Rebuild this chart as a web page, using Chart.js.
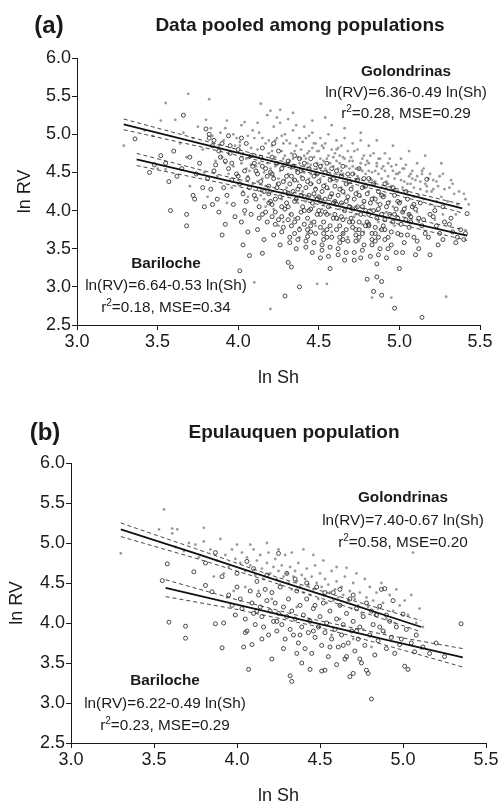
<!DOCTYPE html>
<html>
<head>
<meta charset="utf-8">
<script src="https://cdn.jsdelivr.net/npm/chart.js@4.4.1/dist/chart.umd.min.js"></script>
<style>
  body { margin: 0; background: #fff; font-family: "Liberation Sans", Arial, sans-serif; color: #1a1a1a; }
  #wrap { position: relative; width: 502px; height: 807px; overflow: hidden; }
  canvas { position: absolute; left: 0; }
  .lbl { position: absolute; white-space: nowrap; transform: translateX(-50%); text-align: center; }
  .tag { font-weight: bold; font-size: 24px; line-height: 28px; }
  .ttl { font-weight: bold; font-size: 19px; line-height: 22px; }
  .note { font-size: 15.3px; }
  sup { font-size: 10px; line-height: 0; vertical-align: 6px; }
</style>
</head>
<body>
<div id="wrap">
  <canvas id="chartA" width="502" height="400" style="top:0"></canvas>
  <canvas id="chartB" width="502" height="407" style="top:400px"></canvas>

  <div class="lbl tag" style="left:49px; top:11px">(a)</div>
  <div class="lbl ttl" style="left:300px; top:14px">Data pooled among populations</div>
  <div class="lbl note" style="left:406px; top:60px; line-height:21px"><b>Golondrinas</b><br>ln(RV)=6.36-0.49 ln(Sh)<br>r<sup>2</sup>=0.28, MSE=0.29</div>
  <div class="lbl note" style="left:166px; top:252px; line-height:22px"><b>Bariloche</b><br>ln(RV)=6.64-0.53 ln(Sh)<br>r<sup>2</sup>=0.18, MSE=0.34</div>

  <div class="lbl tag" style="left:45px; top:418px">(b)</div>
  <div class="lbl ttl" style="left:294px; top:421px">Epulauquen population</div>
  <div class="lbl note" style="left:403px; top:486px; line-height:22.5px"><b>Golondrinas</b><br>ln(RV)=7.40-0.67 ln(Sh)<br>r<sup>2</sup>=0.58, MSE=0.20</div>
  <div class="lbl note" style="left:165px; top:669px; line-height:22.5px"><b>Bariloche</b><br>ln(RV)=6.22-0.49 ln(Sh)<br>r<sup>2</sup>=0.23, MSE=0.29</div>
</div>

<script>
// axis ticks
const xTicks = [3.0, 3.5, 4.0, 4.5, 5.0, 5.5];
const yTicks = [2.5, 3.0, 3.5, 4.0, 4.5, 5.0, 5.5, 6.0];

// (a) pooled data: Golondrinas (grey dots), [ln Sh, ln RV]
const golA = [
  [3.29,4.85],[3.52,5.18],[3.55,5.41],[3.47,4.98],[3.50,4.55],[3.55,4.54],[3.42,5.05],
  [3.61,5.19],[3.66,5.02],[3.69,5.53],[3.64,4.88],[3.68,4.70],[3.72,4.95],[3.75,5.10],[3.70,4.32],
  [3.80,5.19],[3.82,5.46],[3.78,4.80],[3.84,4.98],[3.86,4.65],[3.83,5.08],[3.88,4.85],[3.79,4.50],[3.87,4.45],[3.81,4.18],[3.89,5.02],
  [3.93,5.18],[3.91,4.92],[3.95,4.78],[3.92,4.62],[3.97,5.00],[3.94,4.48],[3.98,4.85],[3.90,4.70],[3.96,4.30],[3.99,4.95],[3.93,4.10],[3.97,4.58],
  [4.04,5.16],[4.01,4.90],[4.03,4.75],[4.06,4.98],[4.02,4.62],[4.08,4.82],[4.05,4.55],[4.00,4.40],[4.07,4.70],[4.09,5.05],[4.03,4.25],[4.06,4.45],[4.01,4.85],[4.08,4.60],[4.04,3.95],[4.09,4.35],
  [4.14,5.40],[4.18,5.25],[4.10,4.95],[4.12,4.80],[4.15,4.68],[4.11,4.58],[4.17,4.88],[4.13,5.02],[4.16,4.50],[4.19,4.75],[4.12,4.38],[4.18,4.62],[4.14,4.20],[4.10,3.06],[4.17,4.05],[4.19,4.92],[4.11,4.72],[4.15,4.42],
  [4.20,5.31],[4.26,5.32],[4.22,5.10],[4.24,4.95],[4.21,4.85],[4.27,4.78],[4.23,4.70],[4.25,4.62],[4.28,4.88],[4.20,4.55],[4.29,5.00],[4.22,4.45],[4.26,4.52],[4.24,4.35],[4.28,4.68],[4.21,4.25],[4.27,4.15],[4.20,2.71],[4.25,3.80],[4.29,4.40],[4.23,4.92],[4.26,5.15],
  [4.31,5.20],[4.34,5.05],[4.30,4.92],[4.36,4.85],[4.33,4.75],[4.38,4.95],[4.32,4.65],[4.35,4.58],[4.37,4.70],[4.39,4.80],[4.31,4.48],[4.34,4.40],[4.36,4.52],[4.38,4.62],[4.30,4.30],[4.33,4.20],[4.37,4.10],[4.35,3.90],[4.39,4.45],[4.32,4.88],[4.36,5.12],[4.38,3.65],[4.34,4.68],
  [4.41,5.10],[4.44,4.98],[4.40,4.90],[4.46,4.82],[4.43,4.75],[4.48,4.88],[4.42,4.68],[4.45,4.60],[4.47,4.70],[4.49,4.55],[4.41,4.50],[4.44,4.42],[4.46,4.35],[4.48,4.48],[4.40,4.25],[4.43,4.15],[4.47,4.05],[4.45,3.85],[4.49,4.62],[4.42,4.95],[4.46,5.02],[4.44,4.78],[4.41,4.58],[4.48,4.30],[4.43,3.70],
  [4.51,4.95],[4.54,4.88],[4.50,4.78],[4.56,4.72],[4.53,4.65],[4.58,4.80],[4.52,4.60],[4.55,4.52],[4.57,4.62],[4.59,4.45],[4.51,4.42],[4.54,4.35],[4.56,4.28],[4.58,4.40],[4.50,4.18],[4.53,4.08],[4.57,3.95],[4.55,3.04],[4.49,3.04],[4.59,4.70],[4.52,4.85],[4.56,5.00],[4.54,4.55],[4.51,4.68],[4.58,4.20],[4.53,3.75],
  [4.61,4.92],[4.64,4.85],[4.60,4.75],[4.66,4.68],[4.63,4.62],[4.68,4.78],[4.62,4.55],[4.65,4.48],[4.67,4.58],[4.69,4.40],[4.61,4.38],[4.64,4.30],[4.66,4.22],[4.68,4.35],[4.60,4.12],[4.63,4.02],[4.67,3.90],[4.69,4.65],[4.62,4.82],[4.66,4.95],[4.64,4.52],[4.61,4.65],[4.68,4.15],[4.65,3.70],[4.63,4.72],
  [4.71,4.88],[4.74,4.80],[4.70,4.70],[4.76,4.62],[4.73,4.55],[4.78,4.72],[4.72,4.48],[4.75,4.42],[4.77,4.52],[4.79,4.35],[4.71,4.32],[4.74,4.25],[4.76,4.18],[4.78,4.30],[4.70,4.05],[4.73,3.95],[4.77,3.82],[4.79,4.60],[4.72,4.78],[4.76,4.92],[4.74,4.45],[4.71,4.58],[4.78,4.10],[4.75,3.60],
  [4.81,4.85],[4.84,4.75],[4.80,4.65],[4.86,4.58],[4.83,4.50],[4.88,4.68],[4.82,4.42],[4.85,4.38],[4.87,4.48],[4.89,4.30],[4.81,4.25],[4.84,4.18],[4.86,4.10],[4.88,4.22],[4.80,3.98],[4.83,2.86],[4.87,3.85],[4.89,4.55],[4.82,4.72],[4.86,4.62],[4.84,4.35],[4.81,4.52],
  [4.91,4.75],[4.94,4.68],[4.90,4.58],[4.96,4.52],[4.93,4.45],[4.98,4.60],[4.92,4.38],[4.95,4.32],[4.97,4.42],[4.99,4.25],[4.91,4.20],[4.94,4.12],[4.96,4.05],[4.95,2.86],[4.90,3.92],[4.97,3.80],[4.93,4.62],[4.98,4.48],[4.92,4.30],
  [5.01,4.68],[5.04,4.60],[5.00,4.50],[5.06,4.45],[5.03,4.38],[5.08,4.52],[5.02,4.30],[5.05,4.25],[5.07,4.35],[5.09,4.18],[5.01,4.12],[5.04,4.05],[5.06,3.95],[5.08,4.42],[5.02,4.55],[5.05,3.85],
  [5.11,4.62],[5.14,4.48],[5.10,4.40],[5.16,4.35],[5.13,4.28],[5.18,4.42],[5.12,4.20],[5.15,4.15],[5.17,4.25],[5.19,4.08],[5.11,3.98],[5.14,4.52],
  [5.21,4.40],[5.24,4.32],[5.20,4.25],[5.26,4.18],[5.23,4.12],[5.28,4.28],[5.22,4.05],[5.27,3.95],[5.25,4.45],
  [5.31,4.30],[5.34,4.22],[5.30,4.12],[5.36,4.08],[5.33,4.35],[5.29,2.87],[5.35,3.95],
  [5.41,4.15],[5.43,4.08],[5.40,4.22],
  [4.05,4.68],[4.07,4.52],[4.15,4.95],[4.17,4.32],[4.13,4.62],[4.21,4.78],[4.23,4.58],[4.25,4.42],[4.27,4.98],[4.29,4.72],
  [4.31,4.62],[4.33,4.55],[4.35,4.78],[4.37,4.38],[4.39,4.68],[4.41,4.72],[4.43,4.62],[4.45,4.48],[4.47,4.88],[4.49,4.78],
  [4.51,4.55],[4.53,4.82],[4.55,4.68],[4.57,4.48],[4.59,4.58],[4.61,4.80],[4.63,4.48],[4.65,4.70],[4.67,4.42],[4.69,4.55],
  [4.71,4.65],[4.73,4.40],[4.75,4.55],[4.77,4.68],[4.79,4.48],[4.81,4.62],[4.83,4.40],[4.85,4.52],[4.87,4.68],[4.89,4.42],
  [4.91,4.52],[4.93,4.35],[4.95,4.58],[4.97,4.28],[4.99,4.48],[5.01,4.40],[5.03,4.55],[5.05,4.35],[5.07,4.48],[5.09,4.30],
  [5.11,4.45],[5.13,4.38],[5.15,4.55],[5.17,4.32],[5.19,4.48],[5.21,4.28],[5.23,4.38],[5.27,4.48],[5.32,4.40],[5.37,4.25],
  [4.22,4.02],[4.32,3.95],[4.42,4.12],[4.52,4.02],[4.62,3.88],[4.72,3.92],[4.82,4.02],[4.92,3.98],[5.02,3.98],[4.48,3.80],
  [4.58,3.72],[4.68,3.65],[4.38,3.78],[4.28,3.85],[4.78,3.72],[4.88,3.75],[5.12,3.85],[5.22,3.88],[4.16,4.15],[4.06,4.18],
  [4.34,5.28],[4.46,5.18],[4.58,5.12],[4.66,5.08],[4.76,5.02],[4.86,4.92],[4.96,4.85],[5.06,4.78],[5.16,4.72],[5.26,4.62],
  [4.54,5.22],[4.24,5.22],[4.12,5.15],[4.02,5.12],[3.92,5.08]
];

// (a) pooled data: Bariloche (open circles)
const barA = [
  [3.36,4.94],[3.66,5.25],[3.58,4.00],[3.68,3.95],[3.68,3.80],[3.90,3.68],[4.01,3.21],[4.07,3.41],[4.15,3.44],[4.29,2.88],
  [4.38,3.00],[4.31,3.32],[4.33,3.26],[4.57,3.24],[4.51,3.38],[4.80,3.10],[4.86,3.13],[4.84,2.94],[4.89,2.89],[4.89,3.07],
  [4.97,2.72],[5.14,2.60],[5.00,3.24],[5.10,3.42],[5.19,3.42],[5.35,3.58],[5.42,3.96],[5.17,4.41],[5.27,4.05],
  [3.45,4.50],[3.48,4.60],[3.52,4.72],[3.57,4.38],[3.60,4.78],[3.55,4.62],
  [3.62,4.45],[3.65,4.55],[3.70,4.70],[3.72,4.20],[3.74,4.48],[3.76,4.62],[3.78,4.30],[3.73,4.15],[3.79,4.05],
  [3.80,5.07],[3.82,4.95],[3.84,4.85],[3.86,4.60],[3.81,4.42],[3.83,4.28],[3.85,4.52],[3.87,4.15],[3.89,4.70],[3.88,3.98],[3.84,4.08],[3.82,5.00],
  [3.90,4.88],[3.92,4.65],[3.94,4.55],[3.96,4.40],[3.91,4.30],[3.93,4.20],[3.95,4.75],[3.97,4.08],[3.99,4.48],[3.98,3.92],[3.92,3.82],[3.96,4.62],[3.94,4.98],
  [4.00,4.80],[4.02,4.68],[4.04,4.52],[4.06,4.42],[4.01,4.35],[4.03,4.22],[4.05,4.12],[4.07,4.30],[4.09,4.58],[4.08,3.95],[4.02,3.85],[4.06,3.72],[4.04,4.00],[4.00,4.45],[4.08,4.72],[4.03,3.55],
  [4.10,4.62],[4.12,4.48],[4.14,4.38],[4.16,4.25],[4.11,4.15],[4.13,4.05],[4.15,3.95],[4.17,4.55],[4.19,4.32],[4.18,3.85],[4.12,3.75],[4.16,3.62],[4.14,4.70],[4.10,4.20],[4.18,4.45],[4.13,3.90],[4.19,4.10],
  [4.20,4.50],[4.22,4.42],[4.24,4.30],[4.26,4.18],[4.21,4.08],[4.23,3.98],[4.25,3.88],[4.27,4.55],[4.29,4.25],[4.28,3.78],[4.22,3.68],[4.26,3.55],[4.24,4.62],[4.20,4.12],[4.28,4.38],[4.23,3.82],[4.29,4.02],[4.21,4.70],[4.27,3.92],
  [4.30,4.45],[4.32,4.35],[4.34,4.25],[4.36,4.15],[4.31,4.05],[4.33,3.95],[4.35,3.85],[4.37,4.50],[4.39,4.20],[4.38,3.75],[4.32,3.65],[4.36,3.50],[4.34,4.58],[4.30,4.10],[4.38,4.32],[4.33,3.80],[4.39,3.98],[4.31,4.65],[4.37,3.90],[4.35,4.40],[4.32,3.58],[4.38,4.68],
  [4.40,4.42],[4.42,4.30],[4.44,4.20],[4.46,4.10],[4.41,4.00],[4.43,3.90],[4.45,3.80],[4.47,4.45],[4.49,4.15],[4.48,3.70],[4.42,3.60],[4.46,3.45],[4.44,4.55],[4.40,4.05],[4.48,4.28],[4.43,3.75],[4.49,3.95],[4.41,4.62],[4.47,3.85],[4.45,4.35],[4.42,3.52],[4.48,4.60],[4.44,4.00],
  [4.50,4.38],[4.52,4.25],[4.54,4.15],[4.56,4.05],[4.51,3.95],[4.53,3.85],[4.55,3.75],[4.57,4.40],[4.59,4.10],[4.58,3.65],[4.52,3.55],[4.56,3.40],[4.54,4.50],[4.50,4.00],[4.58,4.22],[4.53,3.70],[4.59,3.90],[4.51,4.58],[4.57,3.80],[4.55,4.30],[4.52,3.48],[4.58,4.55],[4.54,3.98],[4.50,4.18],
  [4.60,4.32],[4.62,4.20],[4.64,4.10],[4.66,4.00],[4.61,3.90],[4.63,3.80],[4.65,3.70],[4.67,4.35],[4.69,4.05],[4.68,3.60],[4.62,3.50],[4.66,3.35],[4.64,4.45],[4.60,3.95],[4.68,4.18],[4.63,3.65],[4.69,3.85],[4.61,4.52],[4.67,3.75],[4.65,4.25],[4.62,3.42],[4.68,4.48],[4.64,3.92],[4.60,4.12],
  [4.70,4.28],[4.72,4.15],[4.74,4.05],[4.76,3.95],[4.71,3.85],[4.73,3.75],[4.75,3.65],[4.77,4.30],[4.79,4.00],[4.78,3.55],[4.72,3.45],[4.76,3.38],[4.74,4.40],[4.70,3.90],[4.78,4.12],[4.73,3.60],[4.79,3.80],[4.71,4.48],[4.77,3.70],[4.75,4.20],[4.72,3.35],[4.78,4.42],
  [4.80,4.22],[4.82,4.10],[4.84,4.00],[4.86,3.90],[4.81,3.80],[4.83,3.70],[4.85,3.60],[4.87,4.25],[4.89,3.95],[4.88,3.50],[4.82,3.40],[4.86,3.30],[4.84,4.35],[4.80,3.85],[4.88,4.08],[4.83,3.55],[4.89,3.75],[4.81,4.42],[4.87,3.65],[4.85,4.15],
  [4.90,4.18],[4.92,4.05],[4.94,3.95],[4.96,3.85],[4.91,3.75],[4.93,3.65],[4.95,3.55],[4.97,4.20],[4.99,3.90],[4.98,3.45],[4.92,3.38],[4.96,4.30],[4.90,3.80],[4.98,4.02],[4.93,3.50],[4.99,3.70],[4.91,4.35],
  [5.00,4.10],[5.02,3.98],[5.04,3.88],[5.06,3.78],[5.01,3.68],[5.03,3.58],[5.05,4.15],[5.07,3.85],[5.09,3.65],[5.08,4.05],[5.02,3.45],[5.06,3.95],[5.04,4.25],
  [5.10,4.02],[5.12,3.90],[5.14,3.80],[5.16,3.70],[5.11,3.60],[5.13,4.10],[5.15,3.88],[5.18,3.65],[5.19,3.95],[5.12,3.50],
  [5.21,3.92],[5.23,3.80],[5.25,3.70],[5.27,3.62],[5.22,4.00],[5.28,3.85],[5.24,3.55],
  [5.31,3.82],[5.33,3.72],[5.36,3.65],[5.32,3.90],[5.38,3.75],
  [5.41,3.70],[5.40,3.62],
  [4.11,4.52],[4.13,4.28],[4.15,4.58],[4.17,3.98],[4.19,4.22],[4.21,4.48],[4.23,4.15],[4.25,4.35],[4.27,4.05],[4.29,4.60],
  [4.31,4.22],[4.33,4.45],[4.35,4.12],[4.37,4.28],[4.39,4.52],[4.41,4.18],[4.43,4.38],[4.45,4.02],[4.47,4.22],[4.49,4.48],
  [4.51,4.12],[4.53,4.32],[4.55,3.95],[4.57,4.18],[4.59,4.42],[4.61,4.08],[4.63,4.28],[4.65,3.88],[4.67,4.12],[4.69,4.38],
  [4.71,4.02],[4.73,4.22],[4.75,3.85],[4.77,4.05],[4.79,4.32],[4.81,3.95],[4.83,4.15],[4.85,3.78],[4.87,4.02],[4.89,4.20],
  [4.91,3.88],[4.93,4.10],[4.95,3.72],[4.97,3.95],[4.99,4.12],[5.01,3.82],[5.03,4.02],[5.05,3.68],[5.07,3.92],[5.09,4.08],
  [4.27,3.72],[4.37,3.62],[4.47,3.58],[4.57,3.52],[4.67,3.45],[4.77,3.48],[4.87,3.42],[4.43,3.66],[4.53,3.62],[4.63,3.58],
  [4.73,3.68],[4.83,3.62],[4.35,3.70],[4.45,3.72],[4.55,3.65],[4.65,3.62],[4.75,3.75],[4.85,3.70],[4.21,3.92],[4.31,3.88],
  [4.41,3.82],[4.51,3.78],[4.61,3.75],[4.71,3.78],[4.81,3.82],[4.91,3.62],
  [3.85,4.92],[3.95,4.85],[4.05,4.88],[4.15,4.82],[4.25,4.78],[4.35,4.72],[4.45,4.68],[4.55,4.62],[4.65,4.58],[4.75,4.55],
  [4.02,4.95],[4.22,4.88],[3.88,4.78]
];

// (a) fitted lines with confidence bands
const golFitAx = [3.29, 3.80, 4.34, 4.90, 5.39];
const golFitA  = [5.13, 4.86, 4.58, 4.29, 4.03];
const golHiA   = [5.20, 4.91, 4.61, 4.33, 4.08];
const golLoA   = [5.06, 4.82, 4.55, 4.25, 3.97];
const barFitAx = [3.37, 3.90, 4.40, 4.90, 5.42];
const barFitA  = [4.67, 4.41, 4.17, 3.92, 3.67];
const barHiA   = [4.75, 4.46, 4.21, 3.97, 3.74];
const barLoA   = [4.59, 4.36, 4.13, 3.87, 3.61];

// (b) Epulauquen population: Golondrinas (grey dots)
const golB = [
  [3.30,4.87],[3.53,5.17],[3.61,5.18],[3.61,5.12],[3.64,5.17],[3.80,5.19],[3.71,5.00],[3.80,5.02],[3.56,5.42],[3.63,4.95],
  [3.68,4.90],[3.75,4.98],[3.77,4.82],[3.84,4.92],[3.88,4.78],[3.93,4.85],[3.90,5.05],[3.95,4.70],[3.97,4.92],[3.99,4.80],
  [3.92,4.62],[3.86,4.58],[4.00,4.98],[4.02,4.75],[4.03,4.88],[4.05,4.65],[4.06,4.82],[4.08,4.72],[4.10,4.92],[4.11,4.60],
  [4.12,4.78],[4.14,4.85],[4.15,4.68],[4.16,4.55],[4.18,4.75],[4.19,4.88],[4.20,4.62],[4.22,4.70],[4.23,4.80],[4.24,4.55],
  [4.25,4.65],[4.26,4.48],[4.27,4.72],[4.28,4.58],[4.29,4.85],[4.30,4.62],[4.31,4.50],[4.32,4.70],[4.33,4.42],[4.34,4.58],
  [4.35,4.65],[4.36,4.52],[4.37,4.75],[4.38,4.45],[4.39,4.60],[4.40,4.38],[4.41,4.55],[4.42,4.68],[4.43,4.48],[4.44,4.35],
  [4.45,4.58],[4.46,4.42],[4.47,4.72],[4.48,4.50],[4.49,4.30],[4.50,4.62],[4.51,4.45],[4.52,4.35],[4.53,4.55],[4.54,4.25],
  [4.55,4.48],[4.56,4.38],[4.57,4.65],[4.58,4.28],[4.59,4.42],[4.60,4.52],[4.61,4.32],[4.62,4.22],[4.63,4.45],[4.64,4.35],
  [4.65,4.58],[4.66,4.69],[4.67,4.28],[4.68,4.40],[4.69,4.18],[4.70,4.50],[4.71,4.30],[4.72,4.62],[4.73,4.22],[4.74,4.38],
  [4.75,4.12],[4.77,4.55],[4.78,4.32],[4.79,4.20],[4.80,4.45],[4.82,4.28],[4.83,4.10],[4.84,4.38],[4.85,4.18],[4.87,4.50],
  [4.88,4.25],[4.90,4.05],[4.92,4.35],[4.94,4.15],[4.96,4.42],[4.98,4.22],[5.01,4.28],[5.03,4.10],[5.06,4.88],[5.05,4.35],
  [5.08,4.00],[5.10,4.18],[5.11,3.68],[5.12,3.95],[4.13,4.40],[4.21,4.30],[4.36,4.20],[4.43,4.05],[4.50,3.95],[4.57,3.85],
  [4.62,4.05],[4.70,3.80],[4.76,3.92],[4.81,3.70],[4.27,4.10],[4.05,4.45],[3.94,4.32],[4.33,4.88],[4.52,4.78],[4.60,4.70],
  [4.46,4.85],[4.18,5.00],[4.08,4.98],[3.98,4.40],[4.89,3.88],[4.95,4.00],[4.40,4.92],[4.25,4.92]
];

// (b) Epulauquen population: Bariloche (open circles)
const barB = [
  [3.58,4.74],[3.74,4.64],[3.87,4.88],[3.55,4.53],[3.81,4.47],[3.85,4.39],[3.59,4.01],[3.69,3.96],[3.69,3.81],[3.91,3.69],
  [4.04,3.70],[4.09,3.73],[4.07,3.42],[4.32,3.34],[4.33,3.27],[4.39,3.50],[4.51,3.40],[4.53,3.41],[4.68,3.33],[4.70,3.37],
  [4.78,3.41],[4.79,3.37],[5.01,3.46],[5.03,3.42],[5.07,3.64],[4.95,3.62],[4.98,3.73],[4.86,3.95],[4.86,4.21],[4.94,4.28],
  [4.89,4.43],[5.00,4.11],[4.87,4.42],[5.35,3.99],[4.81,3.05],[3.87,3.99],[3.81,4.75],[4.06,4.77],[4.25,4.87],[3.91,4.58],
  [3.95,4.35],[3.97,4.22],[3.99,4.10],[4.00,4.45],[4.02,4.30],[4.03,4.18],[4.05,4.05],[4.06,3.90],[4.08,4.40],[4.09,4.25],
  [4.10,4.12],[4.11,3.98],[4.12,4.52],[4.13,4.35],[4.14,4.20],[4.15,4.08],[4.16,3.95],[4.17,4.42],[4.18,4.28],[4.19,3.85],
  [4.20,4.15],[4.21,4.38],[4.22,4.02],[4.23,4.25],[4.24,3.90],[4.25,4.12],[4.26,4.45],[4.27,3.98],[4.28,4.20],[4.29,3.80],
  [4.30,4.08],[4.31,4.30],[4.32,3.92],[4.33,4.15],[4.34,3.85],[4.35,4.05],[4.36,4.40],[4.37,3.75],[4.38,4.22],[4.39,3.95],
  [4.40,4.10],[4.41,3.68],[4.42,4.30],[4.43,3.88],[4.44,4.02],[4.45,3.62],[4.46,4.18],[4.47,3.82],[4.48,4.45],[4.49,3.95],
  [4.50,4.08],[4.51,3.72],[4.52,4.25],[4.53,3.88],[4.54,4.00],[4.55,3.58],[4.56,4.15],[4.57,3.80],[4.58,4.38],[4.59,3.92],
  [4.60,4.05],[4.61,3.70],[4.62,4.22],[4.63,3.85],[4.64,3.98],[4.65,3.55],[4.66,4.12],[4.67,3.75],[4.68,4.30],[4.69,3.90],
  [4.70,4.02],[4.71,3.65],[4.72,4.18],[4.73,3.80],[4.74,3.95],[4.75,3.50],[4.76,4.08],[4.77,3.72],[4.78,4.25],[4.80,3.85],
  [4.82,3.98],[4.83,3.60],[4.84,4.10],[4.85,3.78],[4.88,3.90],[4.90,3.68],[4.92,4.02],[4.93,3.82],[4.96,3.95],[4.99,3.80],
  [5.02,3.92],[5.05,3.75],[5.08,3.85],[5.12,3.70],[5.16,3.62],[5.20,3.75],[5.25,3.58],[4.21,3.55],[4.36,3.62],[4.44,3.42],
  [4.60,3.48],[4.66,3.58],[4.74,3.55],[4.28,3.68],[4.15,3.80],[4.05,3.88],[3.92,4.00],[4.47,4.22],[4.53,4.38],[4.62,4.42],
  [4.70,4.35],[4.35,4.55],[4.42,4.50],[4.18,4.60],[4.10,4.68],[4.00,4.62],[4.30,4.62],[4.56,3.70],[4.64,3.72],[4.72,3.90],
  [4.81,4.15],[4.90,4.10],[4.38,3.85],[4.46,3.90],[4.24,4.02],[4.12,4.15]
];

// (b) fitted lines with confidence bands
const golFitBx = [3.30, 3.75, 4.20, 4.65, 5.11];
const golFitB  = [5.17, 4.87, 4.56, 4.26, 3.95];
const golHiB   = [5.25, 4.93, 4.60, 4.31, 4.03];
const golLoB   = [5.08, 4.81, 4.52, 4.21, 3.89];
const barFitBx = [3.57, 4.00, 4.45, 4.90, 5.36];
const barFitB  = [4.44, 4.23, 4.01, 3.79, 3.57];
const barHiB   = [4.54, 4.29, 4.05, 3.85, 3.68];
const barLoB   = [4.33, 4.17, 3.97, 3.72, 3.45];

const ink = '#1a1a1a';
const fontFam = '"Liberation Sans", Arial, sans-serif';

function pts(pairs) {
  return pairs.map(p => ({x: p[0], y: p[1]}));
}
function line(xs, ys) {
  return xs.map((x, i) => ({x: x, y: ys[i]}));
}
function fitSet(xs, ys, dashed) {
  return {
    data: line(xs, ys),
    showLine: true,
    pointRadius: 0,
    borderColor: dashed ? '#333' : '#111',
    borderWidth: dashed ? 0.9 : 1.8,
    borderDash: dashed ? [4, 3] : [],
    order: 0
  };
}

function makePanel(id, d, lay) {
  new Chart(document.getElementById(id), {
    type: 'scatter',
    data: {
      datasets: [
        fitSet(d.gx, d.gFit, false), fitSet(d.gx, d.gHi, true), fitSet(d.gx, d.gLo, true),
        fitSet(d.bx, d.bFit, false), fitSet(d.bx, d.bHi, true), fitSet(d.bx, d.bLo, true),
        { data: pts(d.bar), pointRadius: 2.0, pointBorderWidth: 0.9, pointBorderColor: '#333',
          pointBackgroundColor: 'rgba(0,0,0,0)', order: 1 },
        { data: pts(d.gol), pointRadius: 1.4, pointBorderWidth: 0, pointBackgroundColor: '#9a9a9a',
          pointBorderColor: '#9a9a9a', order: 2 }
      ]
    },
    options: {
      responsive: false,
      animation: false,
      layout: { padding: { left: 0, right: lay.right, top: lay.top, bottom: 0 } },
      plugins: { legend: { display: false }, tooltip: { enabled: false } },
      scales: {
        x: {
          min: 3.0, max: 5.5,
          afterBuildTicks: s => { s.ticks = xTicks.map(v => ({value: v})); },
          afterFit: s => { s.height = lay.xh; },
          grid: { drawOnChartArea: false, tickLength: 5, color: ink },
          border: { color: ink, width: 1 },
          ticks: { color: ink, padding: 1, maxRotation: 0, font: { family: fontFam, size: 18 },
                   callback: v => v.toFixed(1) },
          title: { display: true, text: 'ln Sh', color: ink, font: { family: fontFam, size: 18 },
                   padding: { top: 0, bottom: lay.xtp } }
        },
        y: {
          min: 2.5, max: 6.0,
          afterBuildTicks: s => { s.ticks = yTicks.map(v => ({value: v})); },
          afterFit: s => { s.width = lay.yw; },
          grid: { drawOnChartArea: false, tickLength: 5, color: ink },
          border: { color: ink, width: 1 },
          ticks: { color: ink, padding: 1, font: { family: fontFam, size: 18 },
                   callback: v => v.toFixed(1) },
          title: { display: true, text: 'ln RV', color: ink, font: { family: fontFam, size: 18 },
                   padding: { top: lay.ytp, bottom: 0 } }
        }
      }
    }
  });
}

makePanel('chartA',
  { gol: golA, bar: barA, gx: golFitAx, gFit: golFitA, gHi: golHiA, gLo: golLoA,
    bx: barFitAx, bFit: barFitA, bHi: barHiA, bLo: barLoA },
  { right: 22, top: 58, xh: 75, yw: 77, xtp: 11, ytp: 14 });

makePanel('chartB',
  { gol: golB, bar: barB, gx: golFitBx, gFit: golFitB, gHi: golHiB, gLo: golLoB,
    bx: barFitBx, bFit: barFitB, bHi: barHiB, bLo: barLoB },
  { right: 16, top: 63, xh: 64, yw: 71, xtp: 0, ytp: 6 });
</script>
</body>
</html>
